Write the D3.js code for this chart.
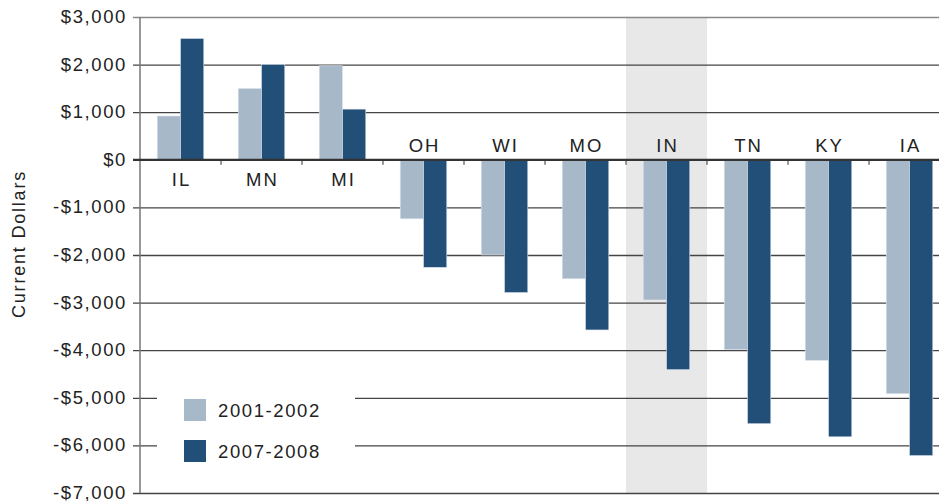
<!DOCTYPE html>
<html>
<head>
<meta charset="utf-8">
<script src="https://cdn.jsdelivr.net/npm/d3@7"></script>
<style>
  body { margin: 0; background: #fff; }
  svg text { font-family: "Liberation Sans", Arial, sans-serif; fill: #222; }
</style>
</head>
<body>
<div id="chart"></div>
<script>
// States, ordered as in the chart
const states = ['IL', 'MN', 'MI', 'OH', 'WI', 'MO', 'IN', 'TN', 'KY', 'IA'];
const series = ['2001-2002', '2007-2008'];
const values2001 = [920, 1500, 1975, -1240, -2000, -2500, -2945, -3990, -4215, -4915];
const values2007 = [2550, 2005, 1065, -2260, -2790, -3575, -4410, -5545, -5820, -6215];
const yTicks = [3000, 2000, 1000, 0, -1000, -2000, -3000, -4000, -5000, -6000, -7000];
const highlighted = 'IN';

const colors = { '2001-2002': '#a7b8c8', '2007-2008': '#224f77' };

const width = 939, height = 501;
const margin = { top: 17, right: 0, bottom: 8, left: 140 };

const svg = d3.select('#chart')
  .append('svg')
  .attr('width', width)
  .attr('height', height);

// Scales
const x = d3.scaleBand()
  .domain(states)
  .range([margin.left, margin.left + 81 * states.length])
  .padding(0);

const xInner = d3.scaleBand()
  .domain(series)
  .range([0, 46.6]);

const y = d3.scaleLinear()
  .domain([-7000, 3000])
  .range([height - margin.bottom, margin.top]);

const fmt = v => (v < 0 ? '-$' : '$') + d3.format(',')(Math.abs(v));

// Highlight band behind IN
svg.append('rect')
  .attr('x', x(highlighted))
  .attr('y', y(3000))
  .attr('width', x.bandwidth())
  .attr('height', y(-7000) - y(3000))
  .attr('fill', '#e8e8e8');

// Gridlines + y labels
const yAxis = d3.axisLeft(y)
  .tickValues(yTicks)
  .tickSize(-(width - margin.left))
  .tickFormat(fmt);

const gy = svg.append('g')
  .attr('transform', `translate(${margin.left},0)`)
  .call(yAxis);

gy.select('.domain').remove();
gy.selectAll('.tick line')
  .attr('x1', -7)
  .attr('stroke', d => d === 3000 ? '#888' : '#444')
  .attr('stroke-width', d => d === 0 ? 0 : 1.3);
gy.selectAll('.tick text')
  .attr('x', -13)
  .attr('dy', '0.3em')
  .style('font-size', '18.5px')
  .style('letter-spacing', '1.6px');

// Legend box (covers gridlines)
const legend = svg.append('g');
legend.append('rect')
  .attr('x', 157)
  .attr('y', 383)
  .attr('width', 198)
  .attr('height', 92)
  .attr('fill', '#fff');

series.forEach((s, i) => {
  const ly = 399 + i * 41;
  legend.append('rect')
    .attr('x', 184)
    .attr('y', ly)
    .attr('width', 22)
    .attr('height', 22)
    .attr('fill', colors[s]);
  legend.append('text')
    .attr('x', 218)
    .attr('y', ly + 18)
    .style('font-size', '18.5px')
    .style('letter-spacing', '1.6px')
    .text(s);
});

// Bars
const rows = states.map((st, i) => ({ state: st, values: [values2001[i], values2007[i]] }));

const groups = svg.append('g')
  .selectAll('g')
  .data(rows)
  .join('g')
  .attr('transform', d => `translate(${x(d.state) + x.bandwidth() / 2 - 23.3},0)`);

groups.selectAll('rect')
  .data(d => d.values.map((v, j) => ({ key: series[j], value: v })))
  .join('rect')
  .attr('x', d => xInner(d.key))
  .attr('width', xInner.bandwidth())
  .attr('y', d => y(Math.max(0, d.value)))
  .attr('height', d => Math.abs(y(d.value) - y(0)))
  .attr('fill', d => colors[d.key])
  .attr('stroke', '#dfe6ee')
  .attr('stroke-width', 0.6);

// Left axis line
svg.append('line')
  .attr('x1', margin.left).attr('x2', margin.left)
  .attr('y1', y(3000)).attr('y2', y(-7000))
  .attr('stroke', '#777')
  .attr('stroke-width', 1.5);

// Zero line with category ticks
svg.append('line')
  .attr('x1', margin.left - 7).attr('x2', width)
  .attr('y1', y(0)).attr('y2', y(0))
  .attr('stroke', '#333')
  .attr('stroke-width', 2.2);

svg.append('g')
  .selectAll('line')
  .data(states.slice(1))
  .join('line')
  .attr('x1', d => x(d)).attr('x2', d => x(d))
  .attr('y1', y(0)).attr('y2', y(0) + 5)
  .attr('stroke', '#333')
  .attr('stroke-width', 1);

// Category labels: below zero for positive bars, above for negative
svg.append('g')
  .selectAll('text')
  .data(rows)
  .join('text')
  .attr('x', d => x(d.state) + x.bandwidth() / 2 + 1)
  .attr('y', d => d.values[0] > 0 ? y(0) + 26 : y(0) - 8)
  .attr('text-anchor', 'middle')
  .style('font-size', '18.5px')
  .style('letter-spacing', '2px')
  .text(d => d.state);

// Y axis title
svg.append('text')
  .attr('transform', 'translate(25,244) rotate(-90)')
  .attr('text-anchor', 'middle')
  .style('font-size', '18px')
  .style('letter-spacing', '1.8px')
  .text('Current Dollars');
</script>
</body>
</html>
